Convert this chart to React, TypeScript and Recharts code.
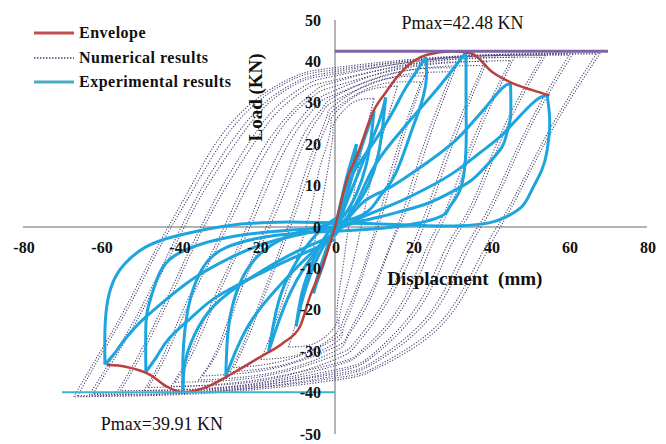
import React from "react";
import {
  LineChart,
  Line,
  XAxis,
  YAxis,
  ReferenceLine,
  ReferenceDot,
  Legend,
} from "recharts";

type Pt = [number, number];

const FONT = "'Liberation Serif', 'Times New Roman', serif";
const RED = "#b9403c";
const BLUE = "#1ca5df";
const NUM = "#4a4173";
const PURPLE = "#7f63a8";
const CYAN = "#3fb2d0";
const AXIS = "#b4b4b4";

const xTicks = [-80, -60, -40, -20, 0, 20, 40, 60, 80];
const yTicks = [-50, -40, -30, -20, -10, 0, 10, 20, 30, 40, 50];

const PMAX_POS = 42.48;
const PMAX_NEG = -39.91;
const pmaxPosSpan = [0, 70];
const pmaxNegSpan = [-70, 0];

// backbone curve through the cycle peaks
const envelope: Pt[] = [
  [-58.5, -33.3], [-53.4, -33.8], [-47.4, -35.7], [-43, -38.6], [-39, -39.91],
  [-32.8, -38.6], [-26, -35.2], [-19, -31.3], [-13.3, -28], [-9, -24.1],
  [-6.5, -17], [-3.3, -9.6], [0, 0], [2.8, 10.6], [6.2, 18.6], [9.7, 27.7],
  [13, 32.5], [16.7, 37.1], [20, 40], [23.6, 41.6], [30, 42.48], [35, 41.9],
  [40.5, 37.3], [45.6, 34.7], [50.8, 33], [55, 31.8],
];

// FE model loops: unloading from the + peak, then reloading from the - peak
const numLoop1: Pt[] = [
  [10, 31], [6.5, 17], [4.5, 6], [3, -3], [2, -10], [1, -16], [0.5, -21], [0, -24], [-5, -28], [-12, -29],
  [-10, -23], [-7.5, -13], [-5.5, -5], [-3.5, 5], [-2, 13], [-1, 19], [-0.5, 23], [0, 25.5], [4.5, 30], [10, 31],
];
const numLoop2: Pt[] = [
  [16, 34], [11, 18], [8, 6], [6, -3], [4, -11], [2, -18], [1, -23], [0, -26], [-8, -30.5], [-19, -32],
  [-16, -25], [-12, -14], [-9, -5], [-6, 5], [-4, 14], [-2, 20], [-1, 25], [0, 27.5], [7, 32.5], [16, 34],
];
const numLoop3: Pt[] = [
  [23, 36.5], [17, 20], [13, 6], [10, -3], [7, -12], [4, -20], [2, -25], [0, -28], [-12, -33], [-27, -35],
  [-23, -27], [-18, -15], [-14, -5], [-10, 6], [-7, 15], [-4, 22], [-2, 27], [0, 29.5], [10, 35], [23, 36.5],
];
const numLoop3b: Pt[] = [
  [22, 35], [16, 19], [12, 5], [9.5, -3], [6.5, -12], [3.5, -19.5], [1.5, -24.5], [0, -27], [-12, -32], [-26, -34],
  [-22, -26], [-17, -14], [-13, -4], [-9, 6.5], [-6, 15], [-3.5, 21.5], [-1.5, 26], [0, 28.5], [10, 34], [22, 35],
];
const numLoop4: Pt[] = [
  [31, 38.5], [24, 21], [19, 6], [15, -3], [11, -13], [7, -21], [3, -27], [0, -30], [-15, -35], [-35, -37],
  [-30, -29], [-25, -16], [-20, -5], [-15, 6], [-11, 16], [-7, 24], [-3, 29], [0, 31.5], [14, 37], [31, 38.5],
];
const numLoop4b: Pt[] = [
  [30, 37.5], [23, 20.5], [18, 5.5], [14.5, -3.5], [10.5, -13], [6.5, -20.5], [3, -26.5], [0, -29], [-15, -34], [-34, -36],
  [-29, -28], [-24, -15], [-19, -4.5], [-14, 6], [-10, 15.5], [-6.5, 23], [-3, 28], [0, 30.5], [14, 36], [30, 37.5],
];
const numLoop5: Pt[] = [
  [39, 40], [31, 22], [25, 6], [21, -4], [16, -14], [10, -23], [5, -29], [0, -32], [-18, -37], [-42, -38.5],
  [-37, -30], [-31, -17], [-25, -5], [-20, 6], [-15, 17], [-9, 26], [-4, 31], [0, 33], [17, 38.5], [39, 40],
];
const numLoop5b: Pt[] = [
  [38, 39], [30, 21.5], [24, 5.5], [20, -4], [15, -14], [9.5, -22.5], [4.5, -28.5], [0, -31], [-18, -36], [-41, -37.5],
  [-36, -29.5], [-30, -16.5], [-24, -4.5], [-19, 6], [-14, 16.5], [-8.5, 25], [-4, 30], [0, 32], [17, 37.5], [38, 39],
];
const numLoop6: Pt[] = [
  [46, 41], [37, 23], [30, 6], [25, -4], [20, -15], [13, -25], [6, -31], [0, -33.5], [-22, -38], [-49, -39.5],
  [-44, -31], [-38, -18], [-31, -5], [-25, 7], [-19, 18], [-12, 27], [-5, 33], [0, 35], [20, 39.5], [46, 41],
];
const numLoop6b: Pt[] = [
  [45, 40.2], [36, 22.5], [29, 5.5], [24, -4], [19, -15], [12.5, -24.5], [6, -30.5], [0, -33], [-22, -37.2], [-48, -38.8],
  [-43, -30.5], [-37, -17.5], [-30, -4.5], [-24, 7], [-18, 17.5], [-11.5, 26.5], [-5, 32], [0, 34], [20, 38.7], [45, 40.2],
];
const numLoop7: Pt[] = [
  [54, 41.5], [44, 24], [36, 6], [30, -4], [24, -16], [16, -26], [8, -32.5], [0, -35], [-25, -39], [-56, -40],
  [-51, -32], [-44, -19], [-37, -5], [-30, 8], [-23, 19], [-15, 29], [-7, 34.5], [0, 36.5], [25, 40.5], [54, 41.5],
];
const numLoop7b: Pt[] = [
  [53, 41], [43, 23.5], [35, 5.5], [29, -4], [23, -16], [15.5, -25.5], [8, -32], [0, -34.5], [-25, -38.5], [-55, -39.5],
  [-50, -31.5], [-43, -18.5], [-36, -4.5], [-29, 8], [-22, 18.5], [-14.5, 28], [-7, 33.5], [0, 35.5], [25, 40], [53, 41],
];
const numLoop8: Pt[] = [
  [61, 41.8], [50, 24], [41, 6], [35, -4], [28, -17], [19, -27], [9, -33.5], [0, -36], [-28, -39.5], [-63, -40.5],
  [-58, -33], [-50, -20], [-42, -5], [-35, 8], [-27, 20], [-18, 30], [-9, 35.5], [0, 37.5], [28, 41], [61, 41.8],
];
const numLoop8b: Pt[] = [
  [60, 41.5], [49, 23.5], [40, 5.5], [34, -4], [27, -17], [18.5, -26.5], [9, -33], [0, -35.5], [-28, -39], [-62, -40.2],
  [-57, -32.5], [-49, -19.5], [-41, -4.5], [-34, 8], [-26, 19.5], [-17.5, 29.5], [-9, 35], [0, 37], [28, 40.7], [60, 41.5],
];
const numLoop9: Pt[] = [
  [68, 42], [56, 24], [46, 6], [40, -4], [32, -18], [22, -28], [10, -34.5], [0, -37], [-30, -40], [-67, -41],
  [-62, -33], [-54, -20], [-46, -5.5], [-38, 8], [-30, 21], [-20, 31], [-10, 36.5], [0, 38.5], [30, 41.2], [68, 42],
];
const numLoop9b: Pt[] = [
  [67, 41.8], [55, 23.5], [45, 5.5], [39, -4], [31, -18], [21.5, -27.5], [10, -34], [0, -36.5], [-30, -39.7], [-66, -40.8],
  [-61, -32.5], [-53, -19.5], [-45, -5], [-37, 8], [-29, 20.5], [-19.5, 30.5], [-10, 36], [0, 38], [30, 41], [67, 41.8],
];

// test loops, in loading order
const expLoop1: Pt[] = [
  [0, 0], [1.5, 6], [3, 12], [4.5, 17], [5.5, 20], [4.8, 15], [3.5, 9], [1.5, 3], [0, 0],
  [-1.5, -4], [-3, -9], [-4.5, -13], [-5.5, -16], [-4.5, -12], [-3, -7.5], [-1.5, -3.5], [0, 0],
];
const expLoop2: Pt[] = [
  [0, -1], [2, 5], [4, 11], [6, 17], [8.5, 24], [10, 28], [9.3, 22], [8, 15], [5.5, 8], [2.5, 3], [0, 0.5],
  [-3, -3], [-6, -9], [-8.5, -16], [-10, -24], [-8.5, -18], [-6.5, -12], [-4, -6.5], [-1.5, -2.5], [0, -1],
];
const expLoop3: Pt[] = [
  [0, -1], [3, 6], [6, 13], [9, 20], [11.5, 26], [13, 31.3], [12.3, 25], [11, 17], [8.5, 10], [5, 5], [0, 2],
  [-5, -2], [-9, -7], [-12.5, -13], [-15, -20], [-17, -30], [-14.5, -23], [-11.5, -16], [-8, -10], [-4, -5], [0, -1],
];
const expLoop4: Pt[] = [
  [0, -1], [2.8, 9.6], [7, 16.5], [12, 23.4], [15.5, 29], [18.2, 33.7], [23.3, 41], [23.3, 34.7], [21.5, 28],
  [19.7, 23.4], [15.6, 13], [12, 8], [8.7, 4], [4, 1.8], [0, 1], [-10, -1.5], [-18, -5.5], [-23, -11], [-26, -18],
  [-27.5, -26], [-28, -36], [-25, -29], [-21, -22], [-15, -15], [-9, -9], [-4, -4.5], [0, -1],
];
const expLoop5: Pt[] = [
  [0, -1], [5, 5], [9.5, 13.7], [15, 21], [20.8, 27.5], [25, 32], [28.5, 36], [33.6, 42.2], [33.6, 30],
  [33.6, 19.3], [32.3, 9.6], [29.5, 5], [26.7, 2.4], [15, 0], [0, -1], [-15, -2], [-28, -5], [-34, -10],
  [-37, -17], [-38.5, -25], [-39, -32], [-39, -39.91], [-38.5, -33], [-36, -26], [-31, -19], [-22, -12.5],
  [-10, -6], [0, -2],
];
const expLoop6: Pt[] = [
  [0, -2], [7, 5.8], [13, 9], [19.7, 13], [25, 16.5], [31, 21], [35, 25], [38.7, 29], [42.8, 33.5], [45, 34.7],
  [45, 26.5], [44, 22.5], [42.8, 19.3], [39, 15], [35, 11.3], [30, 8.5], [24, 5.8], [17, 3.8], [11.3, 2.4],
  [5, 1], [0, 0], [-15, -1], [-30, -3], [-40, -6.3], [-44, -9.5], [-46, -13.5], [-47.8, -19], [-48.5, -24],
  [-48.5, -35], [-45.5, -31], [-42.6, -27], [-37, -22], [-31.5, -17.6], [-25, -14], [-18.7, -11], [-12, -8],
  [-6, -5.5], [0, -3],
];
const expLoop7: Pt[] = [
  [0, -1], [7, 2.4], [15, 5.5], [24, 9.6], [31, 13.5], [37, 17.8], [42, 21.5], [46.4, 25.8], [51.5, 30.6],
  [54.4, 31.8], [55, 27], [55, 23], [54.3, 18], [53, 13.7], [50.5, 9], [48, 5], [44, 2.5], [39.5, 1],
  [32, 0.3], [24, 0.3], [10, 0.8], [0, 1], [-12, 1.2], [-26, 0.5], [-40, -2], [-48.5, -4.8], [-54, -9],
  [-57, -13.5], [-58.5, -19], [-59, -25.5], [-59, -33.2], [-56.5, -30.5], [-54.6, -28], [-51.5, -24.5],
  [-48.5, -21.7], [-42, -16.5], [-35.6, -12], [-27, -7.5], [-17.7, -3.9], [-9, -1.8], [0, 0],
];

const numericalLoops = [
  numLoop1, numLoop2, numLoop3, numLoop3b, numLoop4, numLoop4b, numLoop5, numLoop5b,
  numLoop6, numLoop6b, numLoop7, numLoop7b, numLoop8, numLoop8b, numLoop9, numLoop9b,
];
const experimentalLoops = [expLoop1, expLoop2, expLoop3, expLoop4, expLoop5, expLoop6, expLoop7];

const legendItems = [
  { label: "Envelope", color: "#c0504d", width: 3, dash: undefined as string | undefined },
  { label: "Numerical results", color: NUM, width: 1.3, dash: "1.5 1.5" },
  { label: "Experimental results", color: "#4bacc6", width: 3, dash: undefined as string | undefined },
];

const rows = (pts: Pt[]) => pts.map(([x, y]) => ({ x, y }));

// cut a loop wherever x or y turns back, so each piece can be splined
function splitBranches(pts: Pt[]): Pt[][] {
  const out: Pt[][] = [];
  let cur: Pt[] = [pts[0]];
  let sx = 0;
  let sy = 0;
  for (let i = 1; i < pts.length; i++) {
    const nx = Math.sign(pts[i][0] - pts[i - 1][0]);
    const ny = Math.sign(pts[i][1] - pts[i - 1][1]);
    if ((nx && sx && nx !== sx) || (ny && sy && ny !== sy)) {
      out.push(cur);
      cur = [pts[i - 1]];
      sx = nx;
      sy = ny;
    } else {
      if (nx) sx = nx;
      if (ny) sy = ny;
    }
    cur.push(pts[i]);
  }
  out.push(cur);
  return out;
}

function LegendBox() {
  return (
    <div style={{ fontFamily: FONT, fontWeight: 700, fontSize: 16, color: "#111" }}>
      {legendItems.map((it) => (
        <div key={it.label} style={{ display: "flex", alignItems: "center", height: 24.5, letterSpacing: 0.5 }}>
          <svg width={42} height={8} style={{ marginRight: 4 }}>
            <line x1={1} y1={4} x2={41} y2={4} stroke={it.color} strokeWidth={it.width} strokeDasharray={it.dash} />
          </svg>
          <span>{it.label}</span>
        </div>
      ))}
    </div>
  );
}

const textStyle = { fontFamily: FONT, fill: "#111" };

export default function App() {
  return (
    <LineChart width={650} height={436} margin={{ top: 12, right: 11, bottom: 10, left: 15 }}>
      <XAxis type="number" dataKey="x" domain={[-80, 80]} allowDataOverflow hide />
      <YAxis type="number" dataKey="y" domain={[-50, 50]} allowDataOverflow hide />
      <Legend
        layout="vertical"
        align="center"
        verticalAlign="middle"
        wrapperStyle={{ top: 13, left: 25, width: 240 }}
        content={() => <LegendBox />}
      />

      <ReferenceLine y={0} stroke={AXIS} strokeWidth={2} />
      <ReferenceLine x={0} stroke={AXIS} strokeWidth={2} />

      {numericalLoops.flatMap((loop, i) =>
        splitBranches(loop).map((seg, j) => (
          <Line
            key={`num-${i}-${j}`}
            data={rows(seg)}
            dataKey="y"
            type="natural"
            stroke={NUM}
            strokeWidth={1.1}
            strokeDasharray="1.2 1.6"
            dot={false}
            activeDot={false}
            legendType="none"
            isAnimationActive={false}
          />
        ))
      )}

      {experimentalLoops.flatMap((loop, i) =>
        splitBranches(loop).map((seg, j) => (
          <Line
            key={`exp-${i}-${j}`}
            data={rows(seg)}
            dataKey="y"
            type="natural"
            stroke={BLUE}
            strokeWidth={3}
            dot={false}
            activeDot={false}
            legendType="none"
            isAnimationActive={false}
          />
        ))
      )}

      <Line
        data={rows(envelope)}
        dataKey="y"
        type="monotone"
        stroke={RED}
        strokeWidth={2.5}
        dot={false}
        activeDot={false}
        legendType="none"
        isAnimationActive={false}
      />

      <ReferenceLine
        segment={[{ x: pmaxPosSpan[0], y: PMAX_POS }, { x: pmaxPosSpan[1], y: PMAX_POS }]}
        stroke={PURPLE}
        strokeWidth={3}
      />
      <ReferenceLine
        segment={[{ x: pmaxNegSpan[0], y: PMAX_NEG }, { x: pmaxNegSpan[1], y: PMAX_NEG }]}
        stroke={CYAN}
        strokeWidth={2}
      />

      {xTicks.map((t) => (
        <ReferenceDot
          key={`xt${t}`}
          x={t}
          y={0}
          r={0}
          shape={(p: any) => (
            <text x={p.cx + 1} y={p.cy + 20} textAnchor="middle" dominantBaseline="central" fontSize={16} fontWeight={700} style={textStyle}>
              {t}
            </text>
          )}
        />
      ))}
      {yTicks.map((t) => (
        <ReferenceDot
          key={`yt${t}`}
          x={0}
          y={t}
          r={0}
          shape={(p: any) => (
            <text x={p.cx - 14} y={p.cy} textAnchor="end" dominantBaseline="central" fontSize={16} fontWeight={700} style={textStyle}>
              {t}
            </text>
          )}
        />
      ))}

      <ReferenceDot
        x={-20.3}
        y={31.3}
        r={0}
        shape={(p: any) => (
          <text
            x={p.cx}
            y={p.cy}
            transform={`rotate(-90 ${p.cx} ${p.cy})`}
            textAnchor="middle"
            dominantBaseline="central"
            fontSize={19}
            fontWeight={700}
            style={textStyle}
          >
            Load (KN)
          </text>
        )}
      />
      <ReferenceDot
        x={33.3}
        y={-12.5}
        r={0}
        shape={(p: any) => (
          <text x={p.cx} y={p.cy} textAnchor="middle" dominantBaseline="central" fontSize={19} fontWeight={700} style={{ ...textStyle, whiteSpace: "pre" }}>
            {"Displacment  (mm)"}
          </text>
        )}
      />
      <ReferenceDot
        x={32.7}
        y={49.3}
        r={0}
        shape={(p: any) => (
          <text x={p.cx} y={p.cy} textAnchor="middle" dominantBaseline="central" fontSize={18} style={textStyle}>
            {`Pmax=${PMAX_POS} KN`}
          </text>
        )}
      />
      <ReferenceDot
        x={-44.4}
        y={-47.7}
        r={0}
        shape={(p: any) => (
          <text x={p.cx} y={p.cy} textAnchor="middle" dominantBaseline="central" fontSize={18} style={textStyle}>
            {`Pmax=${Math.abs(PMAX_NEG)} KN`}
          </text>
        )}
      />
    </LineChart>
  );
}
